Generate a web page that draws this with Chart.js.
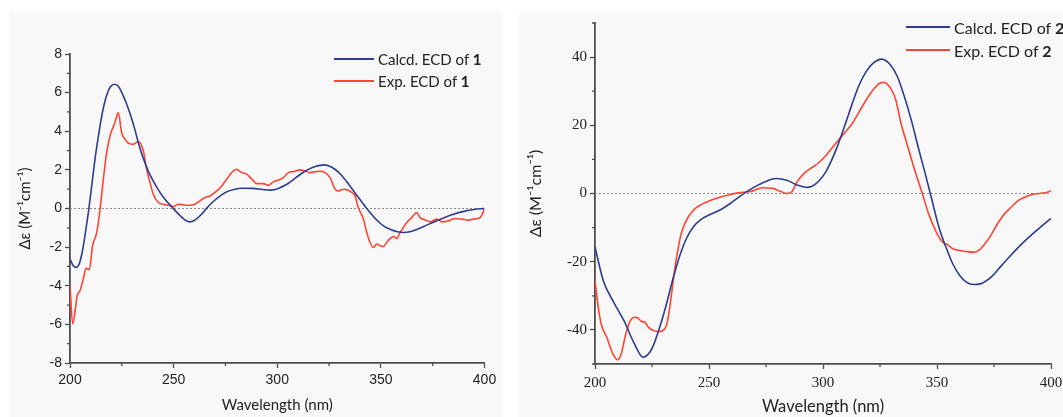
<!DOCTYPE html>
<html>
<head>
<meta charset="utf-8">
<script src="https://cdn.jsdelivr.net/npm/chart.js@4"></script>
<style>
  body { margin: 0; width: 1063px; height: 417px; background: #fff; position: relative; overflow: hidden; }
  .panel { position: absolute; background: #f8f8f8; }
  .panel canvas { position: absolute; left: 0; top: 0; }
  .legend { position: absolute; font-family: Lato, "Open Sans", sans-serif; color: #222; white-space: nowrap; }
  .legend .row { position: absolute; display: flex; align-items: center; }
  .legend .swatch { display: inline-block; height: 2px; margin-right: 4px; }
</style>
</head>
<body>
<div class="panel" id="p1" style="left:9px;top:12px;width:493px;height:405px;">
  <canvas id="c1" width="493" height="405"></canvas>
</div>
<div class="panel" id="p2" style="left:519px;top:12px;width:544px;height:405px;">
  <canvas id="c2" width="544" height="405"></canvas>
</div>
<div class="legend" id="leg1" style="left:334px;top:0;font-size:15px;"></div>
<div class="legend" id="leg2" style="left:906px;top:0;font-size:16px;"></div>
<script>
// ---- data ----
const seriesNames1 = ["Calcd. ECD of ", "Exp. ECD of "];
const compound1 = "1";
const compound2 = "2";

const xTicks = [200, 250, 300, 350, 400];
const xMinor = [225, 275, 325, 375];
const yTicks1 = [-8, -6, -4, -2, 0, 2, 4, 6, 8];
const yMinor1 = [-7, -5, -3, -1, 1, 3, 5, 7];
const yTicks2 = [-40, -20, 0, 20, 40];
const yMinor2 = [-50, -30, -10, 10, 30, 50];

// compound 1, calculated
const wl1Calc = [200, 201.5, 203, 204.5, 206, 207.5, 209, 210.5, 212, 213.5, 215, 216.5, 218, 219.5, 221.7, 223.5, 225, 227, 229, 231, 233, 235, 237.5, 240, 243, 246, 249, 252, 255, 257.5, 260, 263, 266, 269, 272, 275, 279, 283, 288, 293, 297, 301, 305, 309, 313, 317, 320, 322.5, 325, 328, 331, 334, 337, 340, 343, 346, 349, 352, 355, 358, 361, 364, 367, 371, 375, 380, 385, 390, 395, 400];
const de1Calc = [-2.62, -2.95, -3.05, -2.85, -2.2, -1.2, -0.1, 1.2, 2.5, 3.6, 4.6, 5.4, 5.95, 6.3, 6.43, 6.3, 6.0, 5.5, 4.9, 4.2, 3.4, 2.7, 2.0, 1.45, 0.9, 0.45, 0.1, -0.25, -0.55, -0.69, -0.62, -0.35, 0.02, 0.35, 0.62, 0.83, 0.98, 1.05, 1.04, 0.98, 0.95, 1.06, 1.28, 1.6, 1.9, 2.12, 2.22, 2.26, 2.2, 2.02, 1.72, 1.32, 0.88, 0.45, 0.03, -0.36, -0.7, -0.95, -1.1, -1.2, -1.24, -1.2, -1.1, -0.92, -0.72, -0.5, -0.3, -0.15, -0.05, 0];

// compound 1, experimental
const wl1Exp = [200, 201.3, 203.5, 204.8, 206.4, 207.7, 209.3, 210.9, 212.9, 214.5, 216.1, 217.7, 219.3, 221.7, 223.3, 224.9, 226.5, 228.2, 230.6, 233, 235.4, 237, 238.6, 240.2, 242.6, 245, 248.3, 249.9, 252.3, 254.7, 257.1, 259.5, 262.8, 265.2, 267.6, 270.8, 273.2, 275.6, 278.8, 280.4, 282.9, 285.3, 287.7, 290.1, 293.3, 295.7, 298.1, 300.5, 303, 305.4, 307.8, 311, 313.4, 315.8, 318.2, 320.7, 323.1, 325.5, 327.9, 329.5, 331.9, 334.3, 335.9, 337.5, 339.1, 341.6, 343.2, 344.8, 346.4, 348, 349.6, 351.2, 352.8, 354.5, 356.1, 357.7, 359.3, 360.9, 362.5, 364.9, 367.3, 368.9, 371.4, 373.8, 377, 379.4, 382.6, 385.8, 389.1, 392.3, 394.7, 397.9, 400];
const de1Exp = [-4.0, -5.98, -4.5, -4.26, -3.65, -3.1, -3.17, -1.93, -1.24, -0.03, 1.52, 2.9, 3.76, 4.45, 4.97, 3.93, 3.59, 3.38, 3.33, 3.47, 2.98, 2.03, 1.34, 0.74, 0.31, 0.22, 0.14, 0.1, 0.22, 0.19, 0.17, 0.19, 0.4, 0.57, 0.65, 0.91, 1.17, 1.52, 1.95, 2.03, 1.86, 1.78, 1.52, 1.29, 1.29, 1.2, 1.38, 1.47, 1.6, 1.86, 1.91, 2.0, 1.95, 1.86, 1.9, 1.93, 1.86, 1.6, 1.0, 0.91, 1.0, 0.95, 0.83, 0.65, 0.05, -0.55, -1.24, -1.76, -2.02, -1.84, -1.93, -1.97, -1.76, -1.55, -1.45, -1.55, -1.24, -0.98, -0.72, -0.47, -0.21, -0.47, -0.59, -0.69, -0.55, -0.69, -0.64, -0.52, -0.55, -0.6, -0.55, -0.47, -0.03];

// compound 2, calculated
const wl2Calc = [200, 203.6, 208.2, 212.7, 217.3, 221.1, 224.9, 227.9, 231, 234, 237, 240.1, 243.1, 246.1, 250.7, 255.2, 259.8, 264.3, 268.9, 273.4, 279.5, 284.1, 288.6, 293.2, 296.2, 300.8, 303.8, 306.8, 309.9, 312.9, 315.9, 319, 322, 325.8, 329.6, 332.6, 335.7, 338.7, 341.7, 344.8, 347.8, 350.8, 353.9, 356.9, 359.9, 362.9, 366, 369, 373.6, 378.1, 382.7, 387.3, 391.8, 396.4, 400];
const de2Calc = [-15.7, -25.5, -31.9, -37.3, -44.1, -48, -45.6, -40.2, -33.3, -25.5, -18.6, -13.2, -9.8, -7.8, -6.1, -4.7, -2.7, -0.5, 1.5, 3.1, 4.4, 3.9, 2.5, 1.8, 2.5, 5.9, 9.8, 14.7, 20.6, 26.5, 31.9, 35.8, 38.2, 39.4, 37.7, 34.3, 28.4, 21.6, 13.7, 5.9, -2, -9.8, -15.7, -20.6, -24, -26, -26.7, -26.5, -24.6, -21.3, -17.9, -14.7, -11.9, -9.3, -7.3];

// compound 2, experimental
const wl2Exp = [200, 201.4, 202.9, 205.2, 206.7, 208.2, 210, 211.5, 213.5, 215.5, 217.3, 218.8, 220.3, 221.8, 223.4, 225.6, 227.9, 230.2, 231.7, 233.2, 234.7, 236.3, 237.8, 240.1, 243.1, 246.1, 250.7, 255.2, 259.8, 264.3, 268.9, 273.4, 278, 281.8, 284.1, 286.3, 288.6, 291.7, 294.7, 297.7, 300.8, 303.8, 306.8, 309.9, 312.9, 315.9, 319, 322, 325, 326.6, 329.6, 331.9, 334.2, 337.2, 340.2, 343.3, 346.3, 349.3, 352.4, 354.6, 356.9, 359.9, 362.9, 366, 368.3, 370.5, 373.6, 376.6, 379.7, 382.7, 385.7, 388.8, 391.8, 394.8, 397.9, 400];
const de2Exp = [-25.5, -33.3, -38.7, -42.2, -45.1, -47.5, -48.8, -47, -41.2, -37.3, -36.3, -36.5, -37.5, -37.7, -39.2, -40.2, -40.5, -40, -37.7, -31.4, -23.5, -16.7, -11.8, -7.8, -4.9, -3.4, -2.0, -1.0, -0.2, 0.3, 0.7, 1.7, 1.5, 0.5, 0, 0.5, 3.4, 5.9, 7.4, 8.8, 10.8, 13.2, 15.7, 18.1, 20.6, 24, 27.5, 30.4, 32.4, 32.6, 30.9, 27.5, 20.6, 13.7, 6.9, 0.5, -5.9, -10.8, -14.2, -15, -16.2, -16.7, -17, -17.2, -16.7, -15.2, -12.3, -8.8, -5.9, -3.9, -2.0, -1.0, -0.2, 0, 0.3, 0.8];

const calcColor = "#2d3d8e";
const expColor = "#ff4433";
const axisColor = "#4d4d4d";

function pts(xs, ys) {
  return xs.map((x, i) => ({ x: x, y: ys[i] }));
}

// dotted zero line + minor ticks
const extras = {
  id: "extras",
  beforeDatasetsDraw(chart, args, opts) {
    const { ctx, chartArea } = chart;
    const y0 = chart.scales.y.getPixelForValue(0);
    ctx.save();
    ctx.strokeStyle = "#8a8a8a";
    ctx.lineWidth = 1;
    ctx.setLineDash([2, 2]);
    ctx.beginPath();
    ctx.moveTo(chartArea.left, y0);
    ctx.lineTo(chartArea.right, y0);
    ctx.stroke();
    ctx.restore();
  },
  afterDraw(chart, args, opts) {
    const { ctx, chartArea } = chart;
    const xs = chart.scales.x, ys = chart.scales.y;
    ctx.save();
    ctx.strokeStyle = axisColor;
    ctx.lineWidth = 1.3;
    ctx.beginPath();
    opts.xMinor.forEach(v => {
      const px = xs.getPixelForValue(v);
      ctx.moveTo(px, chartArea.bottom);
      ctx.lineTo(px, chartArea.bottom + 3);
    });
    opts.yMinor.forEach(v => {
      const py = ys.getPixelForValue(v);
      ctx.moveTo(chartArea.left, py);
      ctx.lineTo(chartArea.left - 3, py);
    });
    ctx.stroke();
    ctx.restore();
  }
};

function makeChart(id, cfg) {
  const ctx = document.getElementById(id).getContext("2d");
  return new Chart(ctx, {
    type: "line",
    data: {
      datasets: [
        { label: "calc", data: cfg.calc, borderColor: calcColor, borderWidth: 1.6 },
        { label: "exp", data: cfg.exp, borderColor: expColor, borderWidth: 1.6 }
      ]
    },
    options: {
      responsive: false,
      animation: false,
      events: [],
      elements: {
        point: { radius: 0 },
        line: { cubicInterpolationMode: "monotone", fill: false }
      },
      layout: { padding: cfg.padding },
      plugins: {
        legend: { display: false },
        tooltip: { enabled: false },
        extras: { xMinor: xMinor, yMinor: cfg.yMinor }
      },
      scales: {
        x: {
          type: "linear",
          min: 200,
          max: 400,
          afterBuildTicks: s => { s.ticks = xTicks.map(v => ({ value: v })); },
          afterFit: s => { s.height = cfg.xHeight; s.paddingLeft = 0; s.paddingRight = 0; },
          border: { color: axisColor, width: 1.8 },
          grid: { drawOnChartArea: false, tickLength: 5, tickColor: axisColor, tickWidth: 1.3 },
          ticks: { color: "#222", padding: cfg.xTickPad, font: cfg.tickFont, maxRotation: 0 },
          title: {
            display: true,
            text: "Wavelength (nm)",
            color: "#222",
            font: { family: "Lato", size: cfg.xTitleSize },
            padding: { top: 0, bottom: cfg.xTitlePad }
          }
        },
        y: {
          min: cfg.yMin,
          max: cfg.yMax,
          afterBuildTicks: s => { s.ticks = cfg.yTicks.map(v => ({ value: v })); },
          afterFit: s => { s.width = cfg.yWidth; s.paddingTop = 0; s.paddingBottom = 0; },
          border: { color: axisColor, width: 1.8 },
          grid: { drawOnChartArea: false, tickLength: 5, tickColor: axisColor, tickWidth: 1.3 },
          ticks: { color: "#222", padding: 3, font: cfg.tickFont },
          title: {
            display: true,
            text: "\u0394\u03b5 (M\u207b\u00b9cm\u207b\u00b9)",
            color: "#222",
            font: { family: "Lato", size: cfg.yTitleSize },
            padding: { top: cfg.yTitlePad, bottom: 0 }
          }
        }
      }
    },
    plugins: [extras]
  });
}

makeChart("c1", {
  calc: pts(wl1Calc, de1Calc),
  exp: pts(wl1Exp, de1Exp),
  yMin: -8, yMax: 8, yTicks: yTicks1, yMinor: yMinor1,
  padding: { top: 42, right: 17.5, left: 0, bottom: 0 },
  xHeight: 54, yWidth: 61,
  tickFont: { family: "Liberation Sans", size: 14 },
  xTickPad: 4,
  xTitleSize: 15, xTitlePad: 3,
  yTitleSize: 15, yTitlePad: 7
});

makeChart("c2", {
  calc: pts(wl2Calc, de2Calc),
  exp: pts(wl2Exp, de2Exp),
  yMin: -50, yMax: 50, yTicks: yTicks2, yMinor: yMinor2,
  padding: { top: 11, right: 12, left: 0, bottom: 0 },
  xHeight: 53, yWidth: 76,
  tickFont: { family: "Liberation Serif", size: 15 },
  xTickPad: 5,
  xTitleSize: 16.5, xTitlePad: 0,
  yTitleSize: 16, yTitlePad: 7
});

// legends
function buildLegend(id, num, rows) {
  const el = document.getElementById(id);
  const colors = [calcColor, expColor];
  seriesNames1.forEach((name, i) => {
    const row = document.createElement("div");
    row.className = "row";
    row.style.top = (rows[i] - 10) + "px";
    row.style.height = "20px";
    const sw = document.createElement("span");
    sw.className = "swatch";
    sw.style.width = rows.lineW + "px";
    sw.style.background = colors[i];
    const txt = document.createElement("span");
    txt.innerHTML = name + "<b>" + num + "</b>";
    row.appendChild(sw);
    row.appendChild(txt);
    el.appendChild(row);
  });
}
const leg1Rows = [59, 81]; leg1Rows.lineW = 40;
const leg2Rows = [27, 50]; leg2Rows.lineW = 44;
buildLegend("leg1", compound1, leg1Rows);
buildLegend("leg2", compound2, leg2Rows);
</script>
</body>
</html>
